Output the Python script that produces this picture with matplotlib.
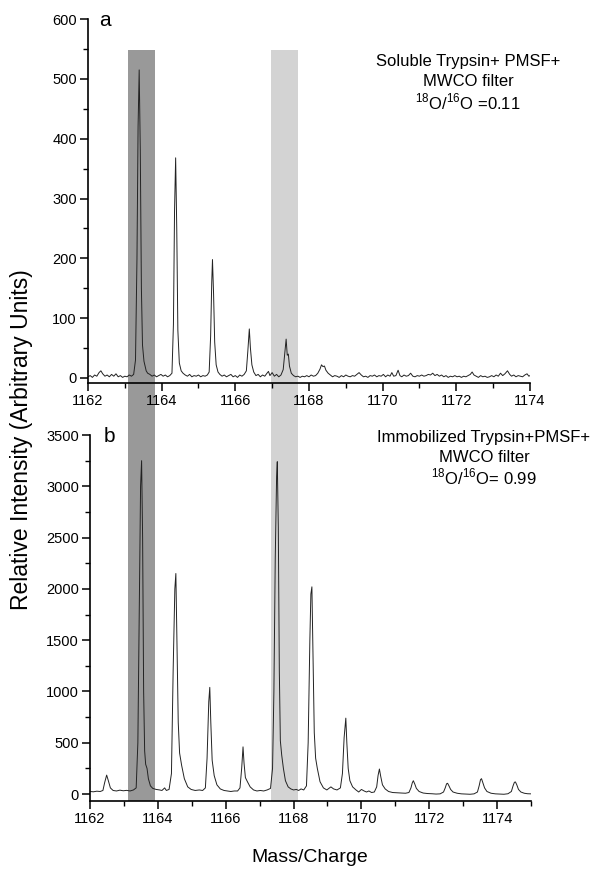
from matplotlib import pyplot as plt
from matplotlib.patches import Rectangle
from matplotlib.ticker import MultipleLocator

# 字体 (Arial 风格)
plt.rcParams['font.family'] = ['Liberation Sans', 'DejaVu Sans']
plt.rcParams['mathtext.fontset'] = 'custom'
plt.rcParams['mathtext.rm'] = 'Liberation Sans'

# a: Soluble Trypsin 质谱
mz_a = [1162.00, 1162.06, 1162.12, 1162.18, 1162.24, 1162.30, 1162.35, 1162.40, 1162.46, 1162.52,
        1162.58, 1162.64, 1162.70, 1162.76, 1162.82, 1162.88, 1162.94, 1163.00, 1163.06, 1163.12,
        1163.18, 1163.24, 1163.29, 1163.33, 1163.36, 1163.39, 1163.42, 1163.45, 1163.48, 1163.52,
        1163.55, 1163.58, 1163.62, 1163.68, 1163.74, 1163.80, 1163.86, 1163.92, 1163.98, 1164.04,
        1164.10, 1164.16, 1164.22, 1164.28, 1164.32, 1164.35, 1164.38, 1164.41, 1164.44, 1164.48,
        1164.53, 1164.58, 1164.64, 1164.70, 1164.76, 1164.82, 1164.88, 1164.94, 1165.00, 1165.06,
        1165.12, 1165.18, 1165.24, 1165.29, 1165.33, 1165.36, 1165.38, 1165.41, 1165.44, 1165.48,
        1165.53, 1165.58, 1165.64, 1165.70, 1165.76, 1165.82, 1165.88, 1165.94, 1166.00, 1166.06,
        1166.12, 1166.18, 1166.24, 1166.30, 1166.34, 1166.38, 1166.41, 1166.45, 1166.50, 1166.56,
        1166.62, 1166.68, 1166.74, 1166.80, 1166.86, 1166.90, 1166.94, 1167.00, 1167.06, 1167.12,
        1167.18, 1167.24, 1167.30, 1167.35, 1167.38, 1167.41, 1167.44, 1167.47, 1167.52, 1167.58,
        1167.64, 1167.70, 1167.76, 1167.82, 1167.88, 1167.94, 1168.00, 1168.06, 1168.12, 1168.18,
        1168.24, 1168.30, 1168.34, 1168.38, 1168.42, 1168.46, 1168.52, 1168.58, 1168.64, 1168.70,
        1168.76, 1168.82, 1168.88, 1168.94, 1169.00, 1169.06, 1169.12, 1169.18, 1169.24, 1169.30,
        1169.36, 1169.42, 1169.48, 1169.54, 1169.60, 1169.66, 1169.72, 1169.78, 1169.84, 1169.90,
        1169.96, 1170.02, 1170.08, 1170.14, 1170.20, 1170.25, 1170.30, 1170.36, 1170.42, 1170.47,
        1170.52, 1170.58, 1170.64, 1170.70, 1170.76, 1170.82, 1170.88, 1170.94, 1171.00, 1171.06,
        1171.12, 1171.18, 1171.24, 1171.30, 1171.36, 1171.42, 1171.48, 1171.54, 1171.60, 1171.66,
        1171.72, 1171.78, 1171.84, 1171.90, 1171.96, 1172.02, 1172.08, 1172.14, 1172.20, 1172.26,
        1172.32, 1172.38, 1172.43, 1172.48, 1172.54, 1172.60, 1172.66, 1172.72, 1172.78, 1172.84,
        1172.90, 1172.96, 1173.02, 1173.08, 1173.14, 1173.20, 1173.26, 1173.32, 1173.39, 1173.45,
        1173.50, 1173.56, 1173.62, 1173.68, 1173.74, 1173.80, 1173.86, 1173.92, 1173.97, 1174.00]
int_a = [2, 4, 1, 5, 3, 9, 12, 7, 3, 5,
         2, 6, 3, 7, 2, 4, 1, 3, 2, 5,
         3, 6, 30, 200, 420, 515, 380, 150, 55, 28,
         20, 12, 8, 6, 3, 5, 2, 4, 6, 3,
         5, 2, 4, 8, 90, 280, 368, 250, 80, 25,
         12, 8, 5, 3, 6, 2, 4, 3, 5, 2,
         4, 3, 5, 10, 70, 160, 198, 140, 60, 22,
         10, 6, 3, 5, 2, 4, 6, 2, 4, 1,
         5, 3, 6, 12, 45, 82, 50, 22, 10, 4,
         6, 2, 5, 3, 8, 11, 4, 9, 3, 6,
         2, 5, 14, 45, 65, 38, 40, 20, 8, 4,
         2, 3, 1, 3, 2, 4, 2, 5, 3, 4,
         8, 15, 22, 19, 20, 13, 8, 5, 2, 4,
         3, 1, 4, 2, 5, 3, 2, 4, 3, 6,
         9, 5, 2, 3, 1, 4, 3, 5, 2, 4,
         3, 6, 2, 5, 3, 9, 3, 4, 13, 4,
         2, 5, 3, 4, 8, 3, 2, 4, 3, 5,
         3, 4, 6, 5, 8, 4, 6, 3, 5, 2,
         4, 1, 3, 2, 4, 2, 3, 1, 3, 2,
         4, 6, 10, 5, 3, 1, 4, 2, 3, 1,
         2, 4, 2, 5, 3, 8, 4, 7, 12, 6,
         3, 5, 2, 4, 3, 2, 5, 7, 3, 4]

# b: Immobilized Trypsin 质谱
mz_b = [1162.00, 1162.10, 1162.20, 1162.30, 1162.38, 1162.43, 1162.49, 1162.54, 1162.60, 1162.68,
        1162.78, 1162.88, 1162.98, 1163.08, 1163.18, 1163.28, 1163.36, 1163.41, 1163.45, 1163.49,
        1163.52, 1163.55, 1163.58, 1163.61, 1163.64, 1163.68, 1163.72, 1163.78, 1163.85, 1163.95,
        1164.05, 1164.12, 1164.20, 1164.25, 1164.33, 1164.40, 1164.45, 1164.50, 1164.53, 1164.56,
        1164.60, 1164.64, 1164.70, 1164.78, 1164.88, 1164.98, 1165.10, 1165.22, 1165.32, 1165.40,
        1165.45, 1165.50, 1165.53, 1165.56, 1165.60, 1165.66, 1165.74, 1165.84, 1165.95, 1166.05,
        1166.15, 1166.25, 1166.35, 1166.42, 1166.47, 1166.51, 1166.54, 1166.58, 1166.64, 1166.72,
        1166.82, 1166.92, 1167.02, 1167.12, 1167.22, 1167.32, 1167.38, 1167.42, 1167.46, 1167.50,
        1167.52, 1167.55, 1167.58, 1167.61, 1167.65, 1167.70, 1167.76, 1167.84, 1167.92, 1168.00,
        1168.08, 1168.15, 1168.22, 1168.30, 1168.38, 1168.43, 1168.48, 1168.51, 1168.54, 1168.57,
        1168.61, 1168.65, 1168.70, 1168.78, 1168.88, 1168.98, 1169.10, 1169.18, 1169.28, 1169.38,
        1169.44, 1169.49, 1169.54, 1169.57, 1169.61, 1169.66, 1169.74, 1169.84, 1169.92, 1170.00,
        1170.08, 1170.15, 1170.22, 1170.30, 1170.38, 1170.45, 1170.49, 1170.53, 1170.57, 1170.62,
        1170.70, 1170.80, 1170.92, 1171.05, 1171.18, 1171.30, 1171.40, 1171.46, 1171.50, 1171.53,
        1171.57, 1171.62, 1171.70, 1171.82, 1171.95, 1172.08, 1172.20, 1172.32, 1172.42, 1172.47,
        1172.51, 1172.54, 1172.58, 1172.63, 1172.70, 1172.82, 1172.95, 1173.08, 1173.20, 1173.32,
        1173.42, 1173.47, 1173.51, 1173.54, 1173.58, 1173.63, 1173.70, 1173.82, 1173.95, 1174.08,
        1174.20, 1174.32, 1174.42, 1174.47, 1174.51, 1174.54, 1174.58, 1174.63, 1174.70, 1174.80,
        1174.90, 1175.00]
int_b = [25, 22, 28, 25, 35, 110, 185, 130, 60, 35,
         30, 38, 32, 36, 30, 40, 60, 500, 1800, 3000,
         3250, 2500, 1000, 420, 290, 250, 150, 80, 55, 45,
         40, 35, 60, 35, 45, 200, 1200, 2000, 2150, 1500,
         700, 400, 280, 150, 70, 45, 35, 40, 35, 60,
         350, 900, 1040, 700, 330, 180, 90, 50, 35, 30,
         25, 30, 30, 60, 250, 460, 300, 160, 120, 70,
         40, 30, 35, 30, 40, 55, 250, 1000, 2300, 3100,
         3240, 2600, 1200, 520, 380, 250, 130, 70, 50, 40,
         45, 35, 50, 40, 80, 500, 1500, 1950, 2020, 1400,
         600, 350, 250, 120, 60, 40, 70, 50, 40, 60,
         200, 550, 740, 500, 250, 130, 70, 40, 20, 45,
         30, 20, 30, 15, 20, 70, 180, 244, 170, 90,
         50, 25, 15, 12, 10, 8, 15, 60, 110, 130,
         100, 55, 25, 10, 5, 3, 0, 2, 20, 60,
         100, 105, 80, 45, 20, 8, 2, 0, -2, 2,
         20, 80, 140, 150, 110, 60, 25, 8, 2, 0,
         -2, 3, 25, 80, 115, 118, 90, 45, 20, 8,
         3, 2]

# 阴影区 (m/z 范围, 以 a 图坐标)
band_dark = (1163.09, 1163.82)
band_light = (1166.97, 1167.71)

fig = plt.figure(figsize=(6.01, 8.86), dpi=100)
ax1 = fig.add_axes([0.1464, 0.5677, 0.7354, 0.4108])
ax2 = fig.add_axes([0.1498, 0.0959, 0.7338, 0.4131])

ax1.plot(mz_a, int_a, color='#222222', lw=0.7)
ax2.plot(mz_b, int_b, color='#222222', lw=0.7)

ax1.set_xlim(1162, 1174)
ax1.set_ylim(-8.4, 600)
ax2.set_xlim(1162, 1175)
ax2.set_ylim(-68, 3500)

ax1.xaxis.set_major_locator(MultipleLocator(2))
ax1.xaxis.set_minor_locator(MultipleLocator(1))
ax1.yaxis.set_major_locator(MultipleLocator(100))
ax1.yaxis.set_minor_locator(MultipleLocator(50))
ax2.xaxis.set_major_locator(MultipleLocator(2))
ax2.xaxis.set_minor_locator(MultipleLocator(1))
ax2.yaxis.set_major_locator(MultipleLocator(500))
ax2.yaxis.set_minor_locator(MultipleLocator(250))

for ax in (ax1, ax2):
    ax.patch.set_visible(False)
    ax.spines['top'].set_visible(False)
    ax.spines['right'].set_visible(False)
    ax.spines['left'].set_linewidth(1.2)
    ax.spines['bottom'].set_linewidth(1.2)
    ax.tick_params(which='major', direction='out', length=6, width=1.1, labelsize=10.5, pad=2)
    ax.tick_params(which='minor', direction='out', length=3.5, width=1.0)

# 灰色区域横跨两个子图
to_fig = fig.transFigure.inverted()
y_top = to_fig.transform(ax1.transData.transform((1162, 548)))[1]
y_bot = 0.0959
for (x0, x1), c in [(band_dark, '#999999'), (band_light, '#d3d3d3')]:
    fx0 = to_fig.transform(ax1.transData.transform((x0, 0)))[0]
    fx1 = to_fig.transform(ax1.transData.transform((x1, 0)))[0]
    fig.add_artist(Rectangle((fx0, y_bot), fx1 - fx0, y_top - y_bot,
                             transform=fig.transFigure, facecolor=c,
                             edgecolor='none', zorder=-1))

ax1.text(0.025, 0.995, 'a', transform=ax1.transAxes, fontsize=15, va='center')
ax2.text(0.03, 0.995, 'b', transform=ax2.transAxes, fontsize=15, va='center')

ax1.text(0.86, 0.8846, 'Soluble Trypsin+ PMSF+', transform=ax1.transAxes, fontsize=12, ha='center', va='center')
ax1.text(0.86, 0.8277, 'MWCO filter', transform=ax1.transAxes, fontsize=12, ha='center', va='center')
ax1.text(0.86, 0.7728, r'$^{18}$O/$^{16}$O =0.11', transform=ax1.transAxes, fontsize=12, ha='center', va='center')

ax2.text(0.8934, 0.9945, 'Immobilized Trypsin+PMSF+', transform=ax2.transAxes, fontsize=12, ha='center', va='center')
ax2.text(0.8934, 0.9399, 'MWCO filter', transform=ax2.transAxes, fontsize=12, ha='center', va='center')
ax2.text(0.8934, 0.8852, r'$^{18}$O/$^{16}$O= 0.99', transform=ax2.transAxes, fontsize=12, ha='center', va='center')

fig.text(22 / 601, 1 - 440 / 886, 'Relative Intensity (Arbitrary Units)', rotation=90,
         ha='center', va='center', fontsize=16.5)
fig.text(310 / 601, 1 - 858 / 886, 'Mass/Charge', ha='center', va='center', fontsize=14)

plt.savefig('out.png', dpi=100)
